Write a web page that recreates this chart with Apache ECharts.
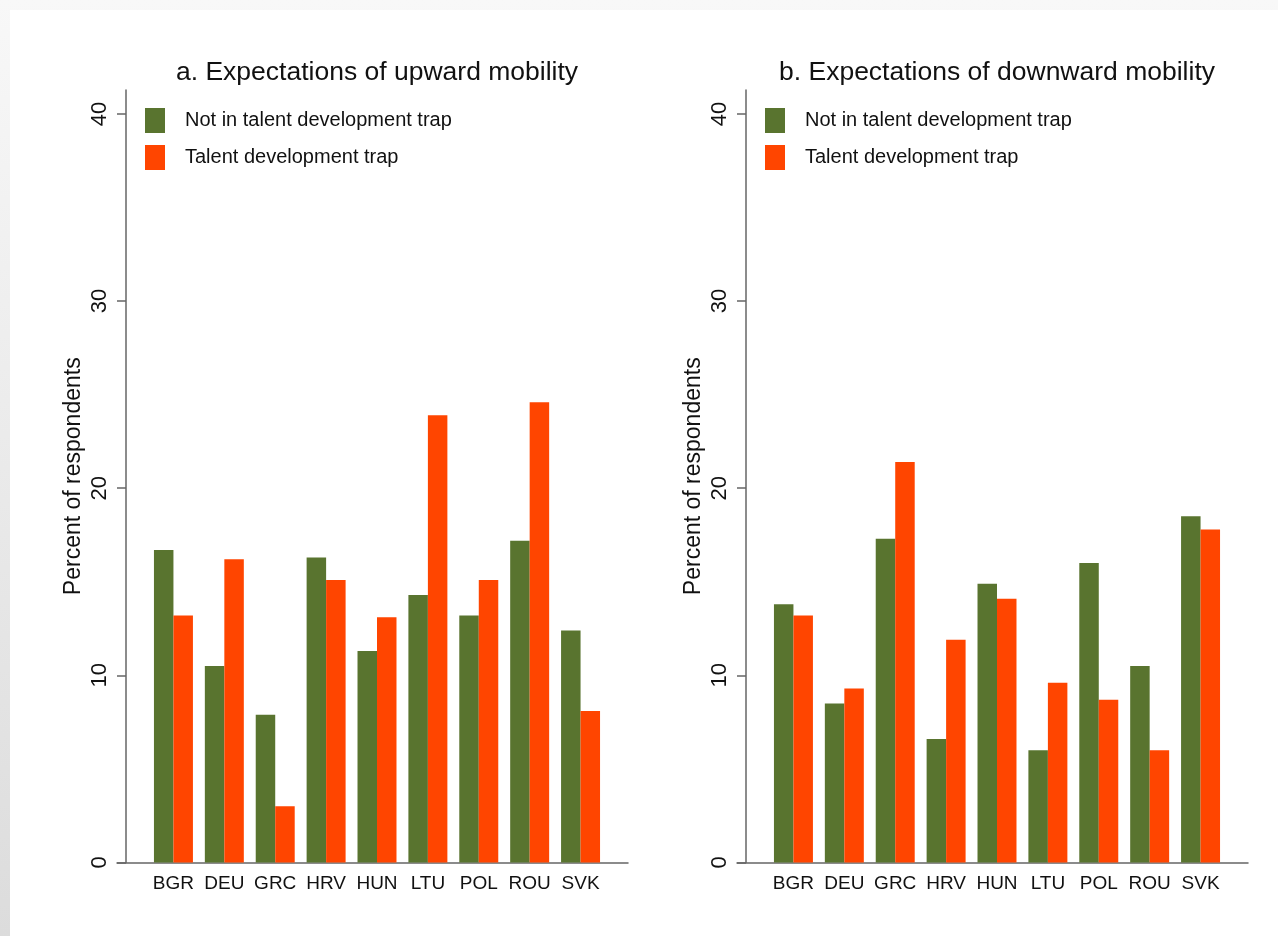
<!DOCTYPE html>
<html>
<head>
<meta charset="utf-8">
<script src="https://cdn.jsdelivr.net/npm/echarts@6/dist/echarts.min.js"></script>
<style>
  html, body { margin: 0; padding: 0; }
  body { width: 1278px; height: 936px; background: linear-gradient(to bottom, #f8f8f8, #dcdcdc); position: relative; overflow: hidden; }
  #paper { position: absolute; left: 10px; top: 10px; width: 1268px; height: 926px; background: #fff; }
  #chart { position: absolute; left: 0; top: 0; width: 1278px; height: 936px; }
</style>
</head>
<body>
<div id="paper"></div>
<div id="chart"></div>
<script>
// 国家
const countries = ['BGR', 'DEU', 'GRC', 'HRV', 'HUN', 'LTU', 'POL', 'ROU', 'SVK'];
const seriesNames = ['Not in talent development trap', 'Talent development trap'];
const panelTitles = ['a. Expectations of upward mobility', 'b. Expectations of downward mobility'];
const yTicks = [0, 10, 20, 30, 40];

// a. upward mobility
const upNotTrap = [16.7, 10.5, 7.9, 16.3, 11.3, 14.3, 13.2, 17.2, 12.4];
const upTrap = [13.2, 16.2, 3.0, 15.1, 13.1, 23.9, 15.1, 24.6, 8.1];
// b. downward mobility
const downNotTrap = [13.8, 8.5, 17.3, 6.6, 14.9, 6.0, 16.0, 10.5, 18.5];
const downTrap = [13.2, 9.3, 21.4, 11.9, 14.1, 9.6, 8.7, 6.0, 17.8];

const GREEN = '#59742f';
const ORANGE = '#ff4500';
const AXIS = '#666';
const FONT = '"Liberation Sans", Arial, sans-serif';

let chart = echarts.init(document.getElementById('chart'));

const panelX = [0, 620];   // 右边面板整体平移
const gridTop = 90, gridBottom = 936 - 862.5;
const yMax = 41.28;

let grids = [], xAxes = [], yAxes = [], legends = [], graphics = [], series = [];

panelX.forEach((dx, i) => {
    // 柱子用的 grid
    grids.push({ left: 148 + dx, width: 458, top: gridTop, bottom: gridBottom });
    xAxes.push({
        type: 'category', gridIndex: i, data: countries,
        axisLine: { show: false }, axisTick: { show: false },
        axisLabel: { interval: 0, color: '#111', fontFamily: FONT, fontSize: 19, margin: 12 }
    });
    yAxes.push({
        type: 'value', gridIndex: i, min: 0, max: yMax, interval: 10, offset: 22,
        name: 'Percent of respondents', nameLocation: 'middle', nameGap: 41,
        nameTextStyle: { color: '#111', fontFamily: FONT, fontSize: 23 },
        axisLine: { show: true, lineStyle: { color: AXIS, width: 1.5 } },
        axisTick: { show: true, length: 9, lineStyle: { color: AXIS, width: 1.5 }, customValues: yTicks },
        axisLabel: { rotate: 90, color: '#111', fontFamily: FONT, fontSize: 22, margin: 15, customValues: yTicks },
        splitLine: { show: false }
    });
    legends.push({
        orient: 'vertical', left: 145 + dx, top: 108, padding: 0,
        itemWidth: 20, itemHeight: 25, itemGap: 12,
        icon: 'rect', data: seriesNames, selectedMode: false,
        textStyle: { color: '#111', fontFamily: FONT, fontSize: 20, padding: [0, 0, 0, 15] }
    });
    graphics.push({
        type: 'text', x: 377 + dx, y: 73,
        style: { text: panelTitles[i], fill: '#111', font: '26.5px ' + FONT, textAlign: 'center', textVerticalAlign: 'middle' }
    });
});

// 底部x轴线比柱子区域宽，另开一个grid只画轴线
panelX.forEach((dx, i) => {
    grids.push({ left: 117 + dx, width: 511, top: gridTop, bottom: gridBottom });
    xAxes.push({
        type: 'value', gridIndex: 2 + i, min: 0, max: 1,
        axisLine: { show: true, onZero: false, lineStyle: { color: AXIS, width: 1.5 } },
        axisTick: { show: false }, axisLabel: { show: false }, splitLine: { show: false }
    });
    yAxes.push({ type: 'value', gridIndex: 2 + i, show: false, min: 0, max: 1 });
});

const panelData = [[upNotTrap, upTrap], [downNotTrap, downTrap]];
panelData.forEach((pair, i) => {
    pair.forEach((vals, j) => {
        series.push({
            name: seriesNames[j], type: 'bar', xAxisIndex: i, yAxisIndex: i,
            data: vals, barGap: '0%', barCategoryGap: '23.4%',
            itemStyle: { color: j === 0 ? GREEN : ORANGE },
            silent: true
        });
    });
});

chart.setOption({
    animation: false,
    grid: grids,
    xAxis: xAxes,
    yAxis: yAxes,
    legend: legends,
    graphic: graphics,
    series: series
});
</script>
</body>
</html>
